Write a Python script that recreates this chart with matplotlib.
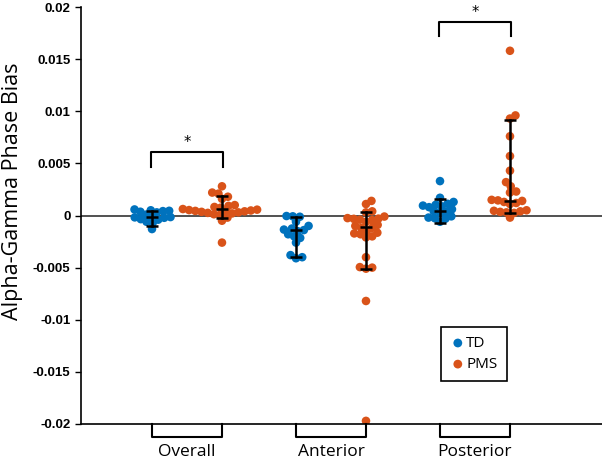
import numpy as np
import matplotlib.pyplot as plt

groups = ['Overall', 'Anterior', 'Posterior']

# phase bias values
td_overall = [0.00042, 0.00036, 0.00058, 0.00045, 0.00030, 0.00050, 0.00008,
              -0.00040, -0.00035, -0.00018, -0.00010, -0.00022, -0.00015,
              -0.00060, -0.00070, -0.00130]
pms_overall = [0.00280, 0.00210, 0.00220, 0.00180, 0.00160, 0.00082, 0.00092,
               0.00075, 0.00100, 0.00040, 0.00048, 0.00035, 0.00044, 0.00052,
               0.00062, 0.00056, 0.00030, 0.00025, 0.00038, 0.00020, -0.00020,
               0.00008, 0.00012, -0.00050, -0.00260]
td_anterior = [-0.00008, -0.00005, -0.00012, -0.00060, -0.00100, -0.00125,
               -0.00140, -0.00135, -0.00150, -0.00180, -0.00200, -0.00215,
               -0.00260, -0.00380, -0.00400, -0.00410]
pms_anterior = [0.00140, 0.00110, 0.00040, 0.00030, -0.00040, -0.00060,
                -0.00030, -0.00045, -0.00010, -0.00025, -0.00032, -0.00090,
                -0.00100, -0.00120, -0.00118, -0.00150, -0.00180, -0.00165,
                -0.00210, -0.00172, -0.00200, -0.00400, -0.00500, -0.00495,
                -0.00510, -0.00820, -0.01970]
td_posterior = [0.00330, 0.00130, 0.00102, 0.00170, 0.00112, 0.00095, 0.00088,
                0.00080, 0.00060, 0.00040, 0.00030, 0.00034, -0.00030, -0.00020,
                -0.00026, -0.00060, -0.00008]
pms_posterior = [0.01580, 0.00930, 0.00960, 0.00760, 0.00570, 0.00430, 0.00320,
                 0.00280, 0.00230, 0.00220, 0.00150, 0.00140, 0.00130, 0.00120,
                 0.00145, 0.00110, 0.00040, 0.00030, 0.00035, 0.00045, 0.00025,
                 0.00050, -0.00020]

td_data = [td_overall, td_anterior, td_posterior]
pms_data = [pms_overall, pms_anterior, pms_posterior]

# median and quartile bars
td_median = [-0.0001, -0.0014, 0.0004]
td_lower = [-0.0010, -0.0040, -0.0007]
td_upper = [0.0004, -0.0001, 0.0016]
pms_median = [0.0006, -0.0011, 0.0014]
pms_lower = [-0.0002, -0.0051, 0.0002]
pms_upper = [0.0019, 0.0003, 0.0092]

# significance brackets
sig_groups = [0, 2]
sig_top = [0.0061, 0.0186]
sig_bottom = [0.0047, 0.0172]

yticks = [-0.02, -0.015, -0.01, -0.005, 0, 0.005, 0.01, 0.015, 0.02]
ytick_labels = ['-0.02', '-0.015', '-0.01', '-0.005', '0', '0.005', '0.01',
                '0.015', '0.02']

blue = '#0072BD'
orange = '#D95319'
off = 0.243


def swarm_x(ax, vals, center, d=6.3):
    '''
    Simple beeswarm: place each point nearest the centre without overlap,
    working in pixel space.
    '''
    pts = ax.transData.transform(np.column_stack([np.full(len(vals), center), vals]))
    ppu = ax.transData.transform([[1, 0]])[0, 0] - ax.transData.transform([[0, 0]])[0, 0]
    ys = pts[:, 1]
    xs = np.zeros(len(vals))
    placed = []
    for i in np.argsort(ys):
        y = ys[i]
        cands = [0.0]
        for px, py in placed:
            dy = y - py
            if abs(dy) < d:
                dx = np.sqrt(d * d - dy * dy)
                cands += [px + dx, px - dx]
        cands.sort(key=abs)
        for c in cands:
            if all((c - px) ** 2 + (y - py) ** 2 >= d * d - 1e-6 for px, py in placed):
                xs[i] = c
                placed.append((c, y))
                break
    return center + xs / ppu


fig = plt.figure(figsize=(6.02, 4.63), dpi=100)
ax = fig.add_axes([81 / 602, 39 / 463, 521 / 602, 417 / 463])
ax.set_xlim(0.264, 3.882)
ax.set_ylim(-0.02, 0.02)

ax.axhline(0, color='#333333', lw=1.2, zorder=1)

for k in range(3):
    for data, pos, col in [(td_data[k], k + 1 - off, blue),
                           (pms_data[k], k + 1 + off, orange)]:
        x = swarm_x(ax, data, pos)
        ax.scatter(x, data, s=38, color=col, edgecolors='none', zorder=2)

for k in range(3):
    for pos, med, lo, hi in [(k + 1 - off, td_median[k], td_lower[k], td_upper[k]),
                             (k + 1 + off, pms_median[k], pms_lower[k], pms_upper[k])]:
        ax.plot([pos, pos], [lo, hi], color='black', lw=1.8, zorder=3)
        for yy in (lo, hi, med):
            ax.plot([pos - 0.04, pos + 0.04], [yy, yy], color='black', lw=1.8,
                    zorder=3, solid_capstyle='butt')

for g, top, bot in zip(sig_groups, sig_top, sig_bottom):
    x0, x1 = g + 1 - off - 0.01, g + 1 + off + 0.01
    ax.plot([x0, x0, x1, x1], [bot, top, top, bot], color='black', lw=1.5)
    ax.text(g + 1, top + 0.0002, '*', ha='center', va='bottom', fontsize=10.5,
            fontfamily='DejaVu Sans')

# category brackets under the axis
trans = ax.get_xaxis_transform()
for k, name in enumerate(groups):
    x0, x1 = k + 1 - off, k + 1 + off
    ax.plot([x0, x0, x1, x1], [0, -0.032, -0.032, 0], color='black', lw=1.5,
            transform=trans, clip_on=False)
    ax.text(k + 1, -0.048, name, ha='center', va='top', fontsize=12.5,
            fontfamily='Open Sans', transform=trans)

ax.set_xticks([])
ax.set_yticks(yticks)
ax.set_yticklabels(ytick_labels, fontfamily='Liberation Sans', fontweight='bold',
                   fontsize=9.5)
ax.tick_params(axis='y', direction='out', length=4, width=1)
for s in ['top', 'right']:
    ax.spines[s].set_visible(False)
ax.spines['left'].set_linewidth(1.2)
ax.spines['bottom'].set_linewidth(1.2)
ax.set_ylabel('Alpha-Gamma Phase Bias', fontfamily='Open Sans', fontsize=15.5)
ax.yaxis.set_label_coords(-0.112, 0.559)

h1 = ax.scatter([], [], s=40, color=blue, edgecolors='none', label='TD')
h2 = ax.scatter([], [], s=40, color=orange, edgecolors='none', label='PMS')
leg = ax.legend(handles=[h1, h2], loc='upper left', bbox_to_anchor=(0.691, 0.233),
                borderaxespad=0, frameon=True, fancybox=False, edgecolor='black',
                framealpha=1, prop={'family': 'Open Sans', 'size': 11},
                handletextpad=0.05, handlelength=1.0, borderpad=0.6,
                labelspacing=0.4)
leg.get_frame().set_linewidth(1.2)

fig.savefig('out.png', dpi=100)
